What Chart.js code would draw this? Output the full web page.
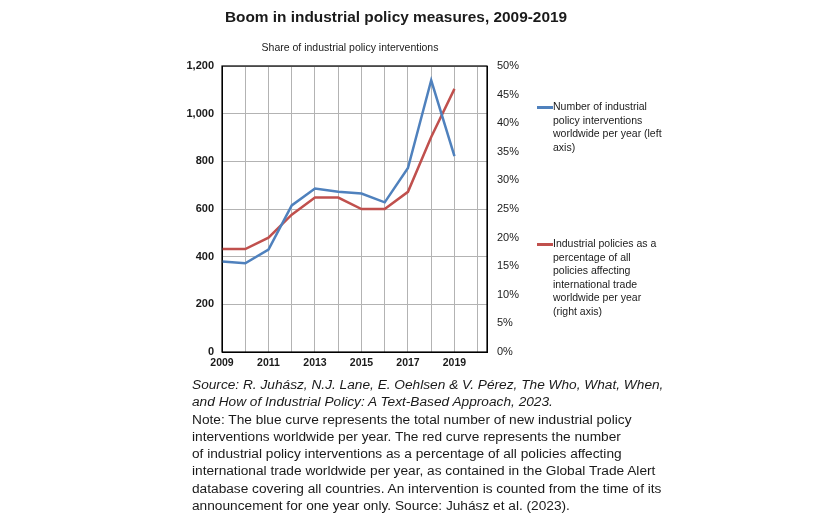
<!DOCTYPE html>
<html>
<head>
<meta charset="utf-8">
<script src="https://cdn.jsdelivr.net/npm/chart.js@4/dist/chart.umd.min.js"></script>
<style>
  html, body { margin: 0; padding: 0; background: #fff; }
  body { width: 835px; height: 522px; position: relative; overflow: hidden; font-family: "Liberation Sans", Arial, sans-serif; color: #1a1a1a; }
  #wrap { position: absolute; left: 0; top: 0; width: 835px; height: 522px; }
  .title { position: absolute; left: 0; width: 792px; top: 8px; text-align: center; font-weight: bold; font-size: 15.4px; }
  .subtitle { position: absolute; left: 250px; width: 200px; top: 41px; text-align: center; font-size: 10.5px; }
  .legend { position: absolute; left: 553px; font-size: 10.5px; line-height: 13.6px; width: 140px; }
  .legend .swatch { position: absolute; left: -16px; top: 6px; width: 16px; height: 3px; }
  .notes { position: absolute; left: 192px; top: 376px; font-size: 13.7px; line-height: 17.3px; width: 600px; }
  .notes .src { font-style: italic; }
</style>
</head>
<body>
<div id="wrap"><canvas id="chart"></canvas></div>
<div class="title">Boom in industrial policy measures, 2009-2019</div>
<div class="subtitle">Share of industrial policy interventions</div>
<div class="legend" style="top: 100px;"><span class="swatch" style="background:#4F81BD"></span>Number of industrial<br>policy interventions<br>worldwide per year (left<br>axis)</div>
<div class="legend" style="top: 237px;"><span class="swatch" style="background:#C0504D"></span>Industrial policies as a<br>percentage of all<br>policies affecting<br>international trade<br>worldwide per year<br>(right axis)</div>
<div class="notes">
  <div class="src">Source: R. Juhász, N.J. Lane, E. Oehlsen &amp; V. Pérez, The Who, What, When,<br>and How of Industrial Policy: A Text-Based Approach, 2023.</div>
  <div>Note: The blue curve represents the total number of new industrial policy<br>interventions worldwide per year. The red curve represents the number<br>of industrial policy interventions as a percentage of all policies affecting<br>international trade worldwide per year, as contained in the Global Trade Alert<br>database covering all countries. An intervention is counted from the time of its<br>announcement for one year only. Source: Juhász et al. (2023).</div>
</div>
<script>
// Chart data
const years = [2009, 2010, 2011, 2012, 2013, 2014, 2015, 2016, 2017, 2018, 2019];
const interventions = [380, 372, 430, 615, 686, 672, 665, 628, 772, 1140, 822];
const sharePct = [18, 18, 20, 24, 27, 27, 25, 25, 28, 37.6, 46];
const gridYears = [2009, 2010, 2011, 2012, 2013, 2014, 2015, 2016, 2017, 2018, 2019, 2020];
const labelYears = [2009, 2011, 2013, 2015, 2017, 2019];

const blue = '#4F81BD';
const red = '#C0504D';
const gridColor = '#b3b3b3';

function toPoints(values) {
  return years.map((yr, i) => ({ x: yr, y: values[i] }));
}

// black frame round the plot area
const plotFrame = {
  id: 'plotFrame',
  afterDraw(chart) {
    const { ctx, chartArea: a } = chart;
    ctx.save();
    ctx.strokeStyle = '#000';
    ctx.lineWidth = 1.2;
    ctx.strokeRect(a.left, a.top, a.right - a.left, a.bottom - a.top);
    ctx.restore();
  }
};

const ctx = document.getElementById('chart');
new Chart(ctx, {
  type: 'line',
  data: {
    datasets: [
      {
        label: 'Number of industrial policy interventions worldwide per year (left axis)',
        data: toPoints(interventions),
        borderColor: blue,
        borderWidth: 2.5,
        pointRadius: 0,
        tension: 0,
        yAxisID: 'y',
        order: 1
      },
      {
        label: 'Industrial policies as a percentage of all policies affecting international trade worldwide per year (right axis)',
        data: toPoints(sharePct),
        borderColor: red,
        borderWidth: 2.5,
        pointRadius: 0,
        tension: 0,
        yAxisID: 'y2',
        order: 2
      }
    ]
  },
  options: {
    responsive: true,
    maintainAspectRatio: false,
    animation: false,
    layout: { padding: { left: 172, right: 298, top: 66, bottom: 150 } },
    plugins: {
      legend: { display: false },
      tooltip: { enabled: false }
    },
    scales: {
      x: {
        type: 'linear',
        min: 2009,
        max: 2020.4,
        afterBuildTicks: scale => { scale.ticks = gridYears.map(v => ({ value: v })); },
        afterFit: scale => { scale.height = 20; },
        grid: { color: gridColor, drawTicks: false },
        border: { color: '#000' },
        ticks: {
          autoSkip: false,
          maxRotation: 0,
          padding: 5,
          color: '#1a1a1a',
          font: { family: 'Liberation Sans', size: 10.5, weight: 'bold' },
          callback: v => labelYears.includes(v) ? String(v) : ''
        }
      },
      y: {
        position: 'left',
        min: 0,
        max: 1200,
        afterFit: scale => { scale.width = 50; },
        grid: { color: gridColor, drawTicks: false },
        border: { color: '#000' },
        ticks: {
          stepSize: 200,
          padding: 8,
          color: '#1a1a1a',
          font: { family: 'Liberation Sans', size: 11, weight: 'bold' },
          callback: v => v.toLocaleString('en-US')
        }
      },
      y2: {
        position: 'right',
        min: 0,
        max: 50,
        afterFit: scale => { scale.width = 50; },
        grid: { display: false, drawTicks: false },
        border: { display: true, color: '#000' },
        ticks: {
          stepSize: 5,
          padding: 10,
          color: '#1a1a1a',
          font: { family: 'Liberation Sans', size: 11 },
          callback: v => v + '%'
        }
      }
    }
  },
  plugins: [plotFrame]
});
</script>
</body>
</html>
